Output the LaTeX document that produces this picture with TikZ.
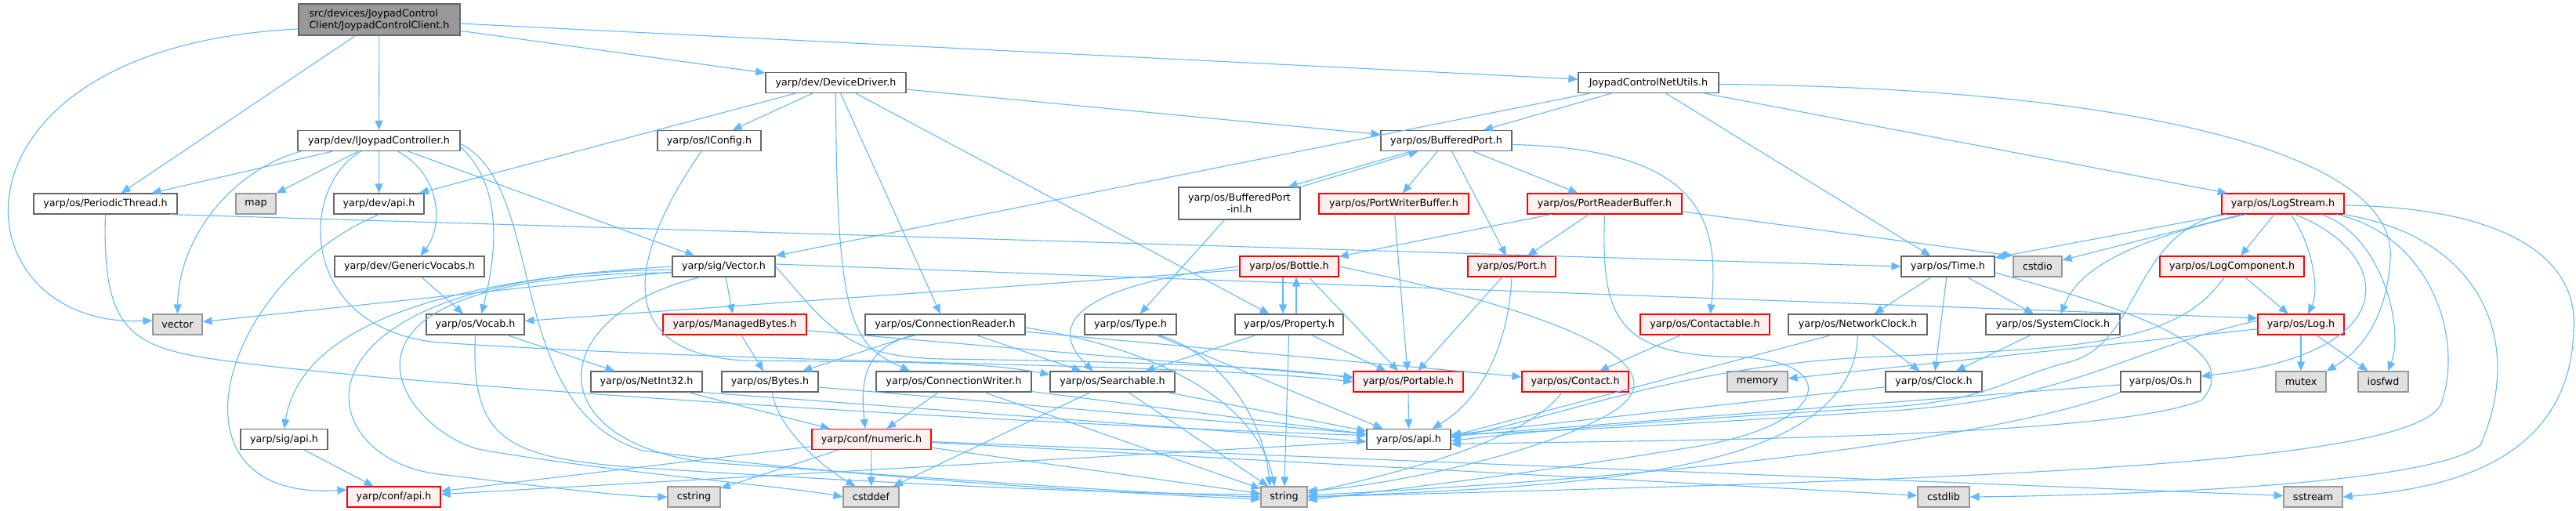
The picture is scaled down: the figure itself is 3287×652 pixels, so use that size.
\documentclass[tikz,border=0pt]{standalone}
\usepackage{fontspec}
\setmainfont{DejaVu Sans}
\usetikzlibrary{arrows.meta}
\definecolor{incblue}{HTML}{63B8FF}
\definecolor{boxgrey}{HTML}{666666}
\definecolor{sysgrey}{HTML}{999999}
\definecolor{sysfill}{HTML}{E0E0E0}
\definecolor{redfill}{HTML}{FFF0F0}
\definecolor{rootfill}{HTML}{999999}
\newcommand{\hdrfont}{\fontsize{12.7pt}{15pt}\selectfont}
\tikzset{hdr/.style={draw=boxgrey,fill=white,line width=1.2pt,inner sep=0pt,minimum height=26pt,font=\hdrfont},redhdr/.style={hdr,draw=red,fill=redfill},syshdr/.style={hdr,draw=sysgrey,fill=sysfill},roothdr/.style={hdr,fill=rootfill,minimum height=40pt,align=left},inc/.style={-{Triangle[length=12pt,width=10pt]},draw=incblue,line width=1.1pt}}
\begin{document}
\begin{tikzpicture}[x=1pt,y=-1pt]
\useasboundingbox (0,0) rectangle (3287,652);
\node[roothdr,minimum width=206pt] (root) at (484,25) {src/devices/JoypadControl\\Client/JoypadControlClient.h};
\node[hdr,minimum width=179pt] (dd) at (1066.5,105.5) {yarp/dev/DeviceDriver.h};
\node[hdr,minimum width=179pt] (jcnu) at (2103.5,105.5) {JoypadControlNetUtils.h};
\node[hdr,minimum width=207pt] (ijc) at (483.5,179.5) {yarp/dev/IJoypadController.h};
\node[hdr,minimum width=132pt] (icfg) at (905,179.5) {yarp/os/IConfig.h};
\node[hdr,minimum width=167pt] (bport) at (1845.5,179.5) {yarp/os/BufferedPort.h};
\node[hdr,minimum width=183pt] (pthr) at (134.5,260) {yarp/os/PeriodicThread.h};
\node[syshdr,minimum width=51pt] (map) at (326.5,260) {map};
\node[hdr,minimum width=115pt] (devapi) at (483.5,260) {yarp/dev/api.h};
\node[hdr,minimum width=155pt,minimum height=41pt,align=center] (bpinl) at (1581.5,259.5) {yarp/os/BufferedPort\\-inl.h};
\node[redhdr,minimum width=191pt] (pwb) at (1778.5,260) {yarp/os/PortWriterBuffer.h};
\node[redhdr,minimum width=197pt] (prb) at (2047.5,260) {yarp/os/PortReaderBuffer.h};
\node[redhdr,minimum width=156pt] (lstr) at (2913,260) {yarp/os/LogStream.h};
\node[hdr,minimum width=191pt] (gvoc) at (522.5,340) {yarp/dev/GenericVocabs.h};
\node[hdr,minimum width=131pt] (svec) at (923.5,340) {yarp/sig/Vector.h};
\node[redhdr,minimum width=126pt] (bottle) at (1645,340) {yarp/os/Bottle.h};
\node[redhdr,minimum width=112pt] (port) at (1929,340) {yarp/os/Port.h};
\node[hdr,minimum width=119pt] (time) at (2485.5,340) {yarp/os/Time.h};
\node[syshdr,minimum width=62pt] (cstdio) at (2600,340) {cstdio};
\node[redhdr,minimum width=184pt] (lcomp) at (2848,340) {yarp/os/LogComponent.h};
\node[syshdr,minimum width=63pt] (vector) at (226.5,414) {vector};
\node[hdr,minimum width=125pt] (vocab) at (606.5,414) {yarp/os/Vocab.h};
\node[redhdr,minimum width=183pt] (mbytes) at (937.5,414) {yarp/os/ManagedBytes.h};
\node[hdr,minimum width=204pt] (creader) at (1206,414) {yarp/os/ConnectionReader.h};
\node[hdr,minimum width=117pt] (type) at (1442.5,414) {yarp/os/Type.h};
\node[hdr,minimum width=138pt] (prop) at (1645,414) {yarp/os/Property.h};
\node[redhdr,minimum width=165pt] (ctable) at (2175.5,414) {yarp/os/Contactable.h};
\node[hdr,minimum width=177pt] (nclock) at (2370.5,414) {yarp/os/NetworkClock.h};
\node[hdr,minimum width=171pt] (sclock) at (2619.5,414) {yarp/os/SystemClock.h};
\node[redhdr,minimum width=110pt] (log) at (2936,414) {yarp/os/Log.h};
\node[hdr,minimum width=142pt] (nint) at (825,487) {yarp/os/NetInt32.h};
\node[hdr,minimum width=123pt] (bytes) at (982.5,487) {yarp/os/Bytes.h};
\node[hdr,minimum width=198pt] (cwriter) at (1217,487) {yarp/os/ConnectionWriter.h};
\node[hdr,minimum width=159pt] (search) at (1419.5,487) {yarp/os/Searchable.h};
\node[redhdr,minimum width=140pt] (portable) at (1797,487) {yarp/os/Portable.h};
\node[redhdr,minimum width=136pt] (contact) at (2010,487) {yarp/os/Contact.h};
\node[syshdr,minimum width=77pt] (memory) at (2242.5,487) {memory};
\node[hdr,minimum width=123pt] (clock) at (2467.5,487) {yarp/os/Clock.h};
\node[hdr,minimum width=102pt] (os) at (2757,487) {yarp/os/Os.h};
\node[syshdr,minimum width=64pt] (mutex) at (2936,487) {mutex};
\node[syshdr,minimum width=64pt] (iosfwd) at (3041,487) {iosfwd};
\node[hdr,minimum width=111pt] (sigapi) at (362.5,560.5) {yarp/sig/api.h};
\node[redhdr,minimum width=152pt] (numeric) at (1112,560.5) {yarp/conf/numeric.h};
\node[hdr,minimum width=107pt] (osapi) at (1797.5,560.5) {yarp/os/api.h};
\node[redhdr,minimum width=119pt] (confapi) at (502.5,634) {yarp/conf/api.h};
\node[syshdr,minimum width=67pt] (cstring) at (885.5,634) {cstring};
\node[syshdr,minimum width=71pt] (cstddef) at (1111.5,634) {cstddef};
\node[syshdr,minimum width=59pt] (string) at (1638.5,634) {string};
\node[syshdr,minimum width=66pt] (cstdlib) at (2480,634) {cstdlib};
\node[syshdr,minimum width=75pt] (sstream) at (2951.5,634) {sstream};
\draw[inc] ([yshift=-12pt]root.west) .. controls (-90,60) and (-60,420) .. ([yshift=5pt]vector.west);
\draw[inc] (root) -- (pthr);
\draw[inc] (root) -- (ijc);
\draw[inc] (root) -- (dd);
\draw[inc] (root) -- (jcnu);
\draw[inc] (ijc) -- (pthr);
\draw[inc] (ijc) -- (map);
\draw[inc] (ijc) -- (devapi);
\draw[inc] ([xshift=-99pt]ijc.south) .. controls (300,215) and (228,300) .. (vector.north);
\draw[inc] ([xshift=24pt]ijc.south) .. controls (565,225) and (565,290) .. ([xshift=14pt]gvoc.north);
\draw[inc] (ijc) -- (svec);
\draw[inc] ([yshift=-8pt]ijc.east) .. controls (645,240) and (632,330) .. ([xshift=8pt]vocab.north);
\draw[inc] ([yshift=-4pt]ijc.east) .. controls (700,240) and (640,520) .. (820,575) .. controls (1100,610) and (1400,628) .. ([yshift=-3pt]string.west);
\draw[inc] ([xshift=-23pt]ijc.south) .. controls (380,240) and (380,420) .. (560,437) .. controls (1000,466) and (1500,462) .. (portable.west);
\draw[inc] (dd) -- (devapi);
\draw[inc] (dd) -- (icfg);
\draw[inc] (dd) -- (bport);
\draw[inc] (dd) -- (creader);
\draw[inc] (dd) -- (prop);
\draw[inc] (dd.south) .. controls (1067,420) and (1090,440) .. ([xshift=-56pt]cwriter.north);
\draw[inc] (jcnu) -- (bport);
\draw[inc] ([xshift=-75pt]jcnu.south) -- (svec.north east);
\draw[inc] (jcnu) -- (time);
\draw[inc] (jcnu) -- (lstr);
\draw[inc] ([yshift=-2pt]jcnu.east) .. controls (2700,112) and (3060,190) .. (3050,330) .. controls (3045,420) and (3000,455) .. (mutex.north east);
\draw[inc] ([xshift=-10pt]icfg.south) .. controls (820,300) and (760,450) .. (950,460) .. controls (1100,462) and (1250,460) .. ([yshift=9pt]search.west);
\draw[inc] ([xshift=-45pt]bport.south) -- ([xshift=62pt]bpinl.north);
\draw[inc] (bpinl.north east) -- ([xshift=-36pt]bport.south);
\draw[inc] (bport) -- (pwb);
\draw[inc] (bport) -- (port);
\draw[inc] (bport) -- (prb);
\draw[inc] ([yshift=-5pt]bport.east) .. controls (2170,190) and (2195,280) .. ([xshift=7pt]ctable.north);
\draw[inc] (bpinl) -- (type);
\draw[inc] (pwb) -- (portable);
\draw[inc] (prb) -- (bottle);
\draw[inc] (prb) -- (port);
\draw[inc] ([yshift=-10pt]prb.east) -- (cstdio.north west);
\draw[inc] (prb.south) .. controls (2043,400) and (2060,450) .. (2200,455) .. controls (2360,455) and (2340,545) .. (2150,572) .. controls (1950,605) and (1750,628) .. ([yshift=-4pt]string.east);
\draw[inc] (lstr) -- (lcomp);
\draw[inc] ([xshift=10pt]lstr.south) .. controls (2950,310) and (2960,370) .. ([xshift=9pt]log.north);
\draw[inc] (lstr) -- (time);
\draw[inc] (lstr) -- (cstdio);
\draw[inc] ([xshift=-47pt]lstr.south) .. controls (2700,310) and (2650,350) .. ([xshift=10pt]sclock.north);
\draw[inc] (lstr.south west) .. controls (2720,300) and (2730,440) .. (2640,462) .. controls (2560,482) and (2540,512) .. (2400,520) .. controls (2200,532) and (2000,545) .. ([yshift=-2pt]osapi.east);
\draw[inc] ([xshift=15pt]lstr.south) .. controls (3050,320) and (3080,450) .. ([yshift=7pt]os.east);
\draw[inc] ([xshift=49pt]lstr.south) .. controls (3040,300) and (3068,420) .. ([xshift=6pt]iosfwd.north);
\draw[inc] ([xshift=-10pt]lstr.south east) .. controls (3100,300) and (3145,430) .. (3115,515) .. controls (3080,595) and (2500,612) .. (string.east);
\draw[inc] ([xshift=-2pt]lstr.south east) .. controls (3160,300) and (3225,430) .. (3165,568) .. controls (3100,620) and (2700,632) .. (cstdlib.east);
\draw[inc] ([yshift=-2pt]lstr.east) .. controls (3200,265) and (3290,330) .. (3284,420) .. controls (3280,600) and (3100,625) .. (sstream.east);
\draw[inc] (lcomp) -- (log);
\draw[inc] ([xshift=-10pt]lcomp.south) .. controls (2780,440) and (2650,445) .. (2400,455) .. controls (2150,465) and (2000,530) .. ([yshift=2pt]osapi.east);
\draw[inc] (log) -- (mutex);
\draw[inc] (log) -- (iosfwd);
\draw[inc] (log) -- (memory);
\draw[inc] ([yshift=5pt]log.west) .. controls (2700,450) and (2650,510) .. (2400,525) .. controls (2200,538) and (2000,550) .. ([yshift=6pt]osapi.east);
\draw[inc] (time) -- (nclock);
\draw[inc] (time) -- (clock);
\draw[inc] (time) -- (sclock);
\draw[inc] ([yshift=-8pt]time.east) .. controls (2700,390) and (2870,440) .. (2810,510) .. controls (2700,560) and (2100,562) .. ([yshift=-6pt]osapi.east);
\draw[inc] (nclock) -- (clock);
\draw[inc] ([xshift=-34pt]nclock.south) -- ([yshift=4pt]osapi.east);
\draw[inc] (nclock.south) .. controls (2365,600) and (2050,620) .. (string.east);
\draw[inc] (sclock) -- (clock);
\draw[inc] (clock) -- (osapi);
\draw[inc] (os) -- (osapi);
\draw[inc] (os.south west) .. controls (2600,540) and (2300,600) .. ([yshift=2pt]string.east);
\draw[inc] (ctable) -- (contact);
\draw[inc] ([xshift=-17pt]contact.south) .. controls (1950,560) and (1800,600) .. ([yshift=5pt]string.east);
\draw[inc] (portable) -- (osapi);
\draw[inc] (port) -- (portable);
\draw[inc] (port.south) .. controls (1925,440) and (1890,510) .. ([xshift=30pt]osapi.north);
\draw[inc] ([xshift=-8pt]bottle.south) -- ([xshift=-8pt]prop.north);
\draw[inc] ([xshift=9pt]prop.north) -- ([xshift=9pt]bottle.south);
\draw[inc] ([xshift=25pt]bottle.south) -- ([xshift=-13pt]portable.north);
\draw[inc] (bottle.west) .. controls (1420,358) and (1320,400) .. ([xshift=-25pt]search.north);
\draw[inc] (bottle) -- (vocab);
\draw[inc] (bottle.east) .. controls (2000,400) and (2160,470) .. (2050,530) .. controls (1950,585) and (1750,622) .. ([yshift=8pt]string.east);
\draw[inc] (prop) -- (search);
\draw[inc] (prop) -- (string);
\draw[inc] (prop) -- (portable);
\draw[inc] ([xshift=35pt]type.south) .. controls (1545,445) and (1610,520) .. ([xshift=-18pt]string.north);
\draw[inc] (type) -- (osapi);
\draw[inc] (creader) -- (bytes);
\draw[inc] ([xshift=-36pt]creader.south) .. controls (1100,440) and (1098,490) .. ([xshift=-8pt]numeric.north);
\draw[inc] (creader) -- (search);
\draw[inc] (creader) -- (contact);
\draw[inc] ([yshift=-4pt]creader.east) .. controls (1450,440) and (1600,500) .. ([xshift=-12pt]string.north);
\draw[inc] (cwriter) -- (numeric);
\draw[inc] (cwriter) -- (string);
\draw[inc] (cwriter) -- (osapi);
\draw[inc] (search) -- (osapi);
\draw[inc] (search) -- (string);
\draw[inc] (search) -- (cstddef);
\draw[inc] (gvoc) -- (vocab);
\draw[inc] (vocab) -- (nint);
\draw[inc] (vocab.south) .. controls (600,565) and (650,585) .. (820,597) .. controls (1100,615) and (1400,630) .. ([yshift=3pt]string.west);
\draw[inc] (mbytes) -- (bytes);
\draw[inc] (mbytes) -- (portable);
\draw[inc] (nint) -- (numeric);
\draw[inc] (nint.south east) -- ([yshift=-3pt]osapi.west);
\draw[inc] ([xshift=3pt]bytes.south) .. controls (990,540) and (1040,590) .. ([xshift=-20pt]cstddef.north);
\draw[inc] ([yshift=-7pt]bytes.east) -- ([yshift=7pt]osapi.west);
\draw[inc] (svec) -- (vector);
\draw[inc] (svec.west) .. controls (500,360) and (380,440) .. (sigapi.north);
\draw[inc] ([yshift=-4pt]svec.west) .. controls (350,350) and (390,585) .. (560,605) .. controls (700,622) and (800,634) .. (cstring.west);
\draw[inc] ([yshift=-8pt]svec.west) .. controls (350,350) and (520,560) .. (620,575) .. controls (800,605) and (1000,620) .. (cstddef.west);
\draw[inc] (svec) -- (mbytes);
\draw[inc] (svec.east) .. controls (1060,420) and (1080,455) .. (1200,458) .. controls (1500,462) and (1650,470) .. ([yshift=4pt]portable.west);
\draw[inc] ([yshift=3pt]svec.east) -- ([yshift=8pt]log.west);
\draw[inc] ([xshift=-30pt]svec.south) .. controls (700,400) and (680,560) .. (900,590) .. controls (1200,610) and (1450,630) .. (string.west);
\draw[inc] ([xshift=-10pt]pthr.south east) -- (time.west);
\draw[inc] (pthr.south) .. controls (130,430) and (170,445) .. (300,462) .. controls (600,500) and (1400,545) .. ([yshift=5pt]osapi.west);
\draw[inc] (devapi.south) .. controls (280,360) and (200,640) .. ([yshift=9pt]confapi.west);
\draw[inc] (sigapi) -- (confapi);
\draw[inc] (osapi) -- (confapi);
\draw[inc] (numeric) -- (confapi);
\draw[inc] (numeric) -- (cstddef);
\draw[inc] (numeric) -- (cstring);
\draw[inc] (numeric) -- (string);
\draw[inc] (numeric) -- (cstdlib);
\draw[inc] (numeric) -- (sstream);
\end{tikzpicture}
\end{document}
